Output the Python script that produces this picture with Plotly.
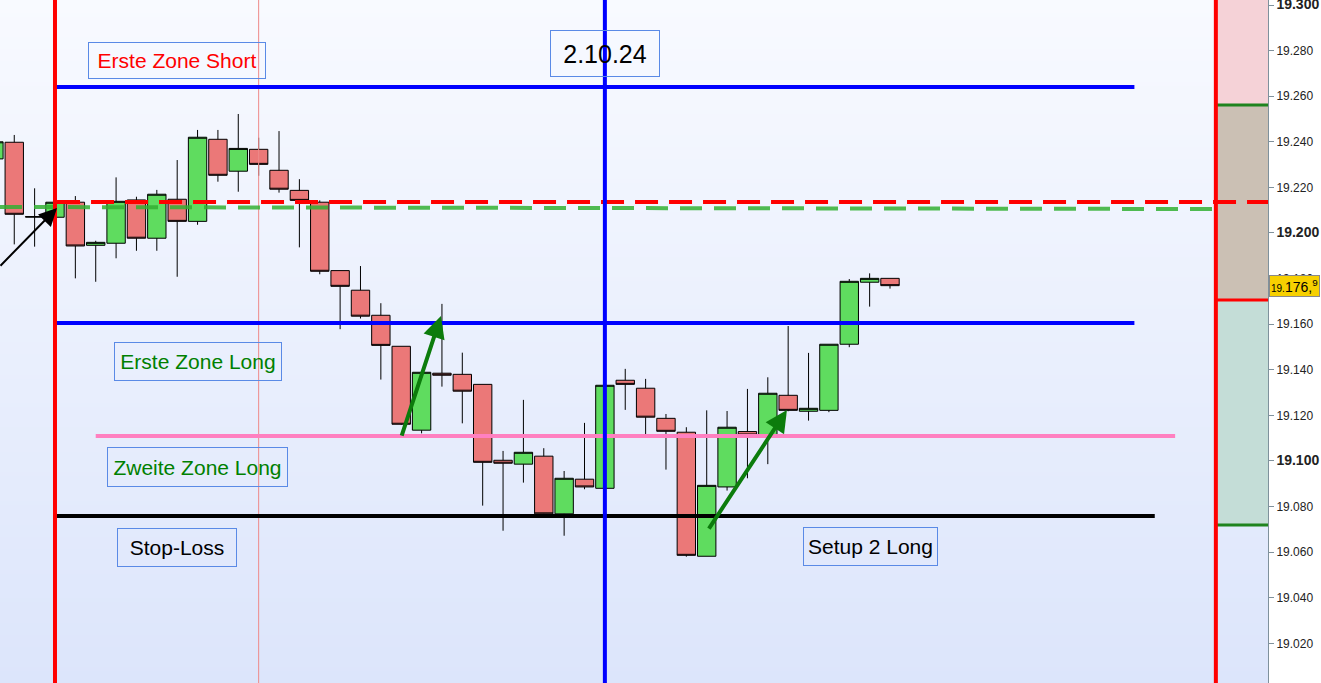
import plotly.graph_objects as go

# ---------------- data ----------------
idx = list(range(-1, 44))
opens = [19.2325, 19.2398, 19.2072, 19.2069, 19.2135, 19.1946, 19.1955, 19.2145, 19.1977, 19.2148,
         19.2051, 19.2411, 19.2271, 19.2367, 19.2275, 19.2187, 19.2135, 19.1835, 19.1749, 19.1639,
         19.1503, 19.1135, 19.1385, 19.1380, 19.1336, 19.1003, 19.0986, 19.1021, 19.0768, 19.0920,
         19.0880, 19.1354, 19.1319, 19.1187, 19.1126, 19.0582, 19.0886, 19.1129, 19.1104, 19.1288,
         19.1218, 19.1222, 19.1512, 19.1784, 19.1801]
highs = [19.2420, 19.2430, 19.2196, 19.2135, 19.2162, 19.1966, 19.2244, 19.2159, 19.2189, 19.2320,
         19.2452, 19.2452, 19.2522, 19.2418, 19.2447, 19.2236, 19.2143, 19.1835, 19.1855, 19.1692,
         19.1503, 19.1389, 19.1689, 19.1475, 19.1336, 19.1044, 19.1268, 19.1056, 19.0956, 19.1167,
         19.1332, 19.1404, 19.1360, 19.1206, 19.1148, 19.1222, 19.1219, 19.1316, 19.1367, 19.1592,
         19.1474, 19.1512, 19.1798, 19.1823, 19.1801]
lows = [19.2310, 19.1950, 19.1940, 19.2069, 19.1801, 19.1786, 19.1889, 19.1922, 19.1922, 19.1808,
        19.2036, 19.2225, 19.2181, 19.2251, 19.2177, 19.1937, 19.1819, 19.1578, 19.1625, 19.1357,
        19.1158, 19.1121, 19.1326, 19.1165, 19.0804, 19.0694, 19.0905, 19.0763, 19.0672, 19.0876,
        19.0880, 19.1224, 19.1102, 19.0962, 19.0580, 19.0582, 19.0870, 19.0924, 19.0986, 19.1218,
        19.1177, 19.1214, 19.1499, 19.1677, 19.1756]
closes = [19.2400, 19.2082, 19.2070, 19.2135, 19.1943, 19.1959, 19.2139, 19.1977, 19.2170, 19.2051,
          19.2420, 19.2253, 19.2371, 19.2301, 19.2192, 19.2143, 19.1832, 19.1766, 19.1635, 19.1507,
          19.1161, 19.1389, 19.1376, 19.1306, 19.0994, 19.0990, 19.1038, 19.0768, 19.0924, 19.0886,
          19.1332, 19.1336, 19.1192, 19.1130, 19.0586, 19.0893, 19.1148, 19.1114, 19.1297, 19.1222,
          19.1231, 19.1512, 19.1788, 19.1801, 19.1769]

x_range = [-0.70, 61.56]
y_range = [19.0026, 19.3022]

# horizontal level lines
blue_levels = [19.2640, 19.1605]
blue_span = [2.0, 55.0]
pink_level = 19.1110
pink_span = [4.0, 57.0]
stop_level = 19.0759
stop_span = [2.0, 56.0]
red_dash_level = 19.2136
red_dash_start = 2.1
green_dash_prices = [19.2114, 19.2105]
green_dash_x = [-0.70, 59.0]

# vertical lines
red_vlines = [2, 59]
blue_vline = 29
thin_vline = 12

# right-side zones
zone_edges = [19.3022, 19.2561, 19.1706, 19.0719]
zone_colors = ["#f5d2d7", "#cbc0b4", "#c4ddd7"]
zone_line_colors = ["#1e841e", "#ff0000", "#1e841e"]

# y ticks
tick_vals = [19.02, 19.04, 19.06, 19.08, 19.10, 19.12, 19.14, 19.16, 19.18, 19.20,
             19.22, 19.24, 19.26, 19.28, 19.30]
bold_ticks = [19.10, 19.20, 19.30]

# text boxes: (text, x, y, width, height, color, size)
labels = [
    ("Erste Zone Short", 7.99, 19.2757, 174, 33, "#ff0000", 21),
    ("2.10.24", 29.0, 19.2787, 106, 43, "#000000", 25),
    ("Erste Zone Long", 9.02, 19.1436, 164, 35, "#008000", 21),
    ("Zweite Zone Long", 9.0, 19.0974, 177, 36, "#008000", 21),
    ("Stop-Loss", 7.99, 19.0621, 116, 35, "#000000", 21),
    ("Setup 2 Long", 42.04, 19.0625, 131, 35, "#000000", 21),
]

# arrows: (tip_x, tip_y, tail_x, tail_y, color, width)
arrows = [
    (2.1, 19.2110, -0.75, 19.1850, "#000000", 2),
    (20.95, 19.1636, 19.0, 19.1105, "#0c7c0c", 4),
    (37.94, 19.1224, 34.06, 19.0697, "#0c7c0c", 4),
]

last_price = closes[-1]

# ---------------- figure ----------------
fig = go.Figure()

fig.add_trace(go.Heatmap(
    x=x_range, y=y_range, z=[[0, 0], [1, 1]], zsmooth="best",
    colorscale=[[0, "#dce5fb"], [1, "#f8faff"]], showscale=False,
    hoverinfo="skip"))

fig.add_trace(go.Candlestick(
    x=idx, open=opens, high=highs, low=lows, close=closes,
    increasing=dict(fillcolor="#5fdc5f", line=dict(color="#000000", width=1)),
    decreasing=dict(fillcolor="#eb7878", line=dict(color="#000000", width=1)),
    whiskerwidth=0, showlegend=False))

shapes = []
for k in range(3):
    shapes.append(dict(type="rect", xref="x", yref="y", x0=59, x1=x_range[1],
                       y0=zone_edges[k + 1], y1=zone_edges[k], fillcolor=zone_colors[k],
                       line=dict(width=0), layer="above"))
for k in range(3):
    shapes.append(dict(type="line", xref="x", yref="y", x0=59, x1=x_range[1],
                       y0=zone_edges[k + 1], y1=zone_edges[k + 1],
                       line=dict(color=zone_line_colors[k], width=3), layer="above"))

shapes.append(dict(type="line", xref="x", yref="paper", x0=thin_vline, x1=thin_vline, y0=0, y1=1,
                   line=dict(color="#ee8a8a", width=1), layer="above"))
for lv in blue_levels:
    shapes.append(dict(type="line", xref="x", yref="y", x0=blue_span[0], x1=blue_span[1], y0=lv, y1=lv,
                       line=dict(color="#0000ff", width=4), layer="above"))
shapes.append(dict(type="line", xref="x", yref="y", x0=pink_span[0], x1=pink_span[1], y0=pink_level, y1=pink_level,
                   line=dict(color="#ff80c0", width=4), layer="above"))
shapes.append(dict(type="line", xref="x", yref="y", x0=stop_span[0], x1=stop_span[1], y0=stop_level, y1=stop_level,
                   line=dict(color="#000000", width=4), layer="above"))
shapes.append(dict(type="line", xref="x", yref="y", x0=green_dash_x[0], x1=green_dash_x[1],
                   y0=green_dash_prices[0], y1=green_dash_prices[1],
                   line=dict(color="rgba(50,175,50,0.85)", width=4, dash="22px,12px"), layer="above"))
shapes.append(dict(type="line", xref="x", yref="y", x0=red_dash_start, x1=x_range[1],
                   y0=red_dash_level, y1=red_dash_level,
                   line=dict(color="#ff0000", width=4, dash="23px,11px"), layer="above"))
for vx in red_vlines:
    shapes.append(dict(type="line", xref="x", yref="paper", x0=vx, x1=vx, y0=0, y1=1,
                       line=dict(color="#ff0000", width=4), layer="above"))
shapes.append(dict(type="line", xref="x", yref="paper", x0=blue_vline, x1=blue_vline, y0=0, y1=1,
                   line=dict(color="#0000ff", width=4), layer="above"))

annotations = []
for text, lx, ly, w, h, col, sz in labels:
    annotations.append(dict(x=lx, y=ly, xref="x", yref="y", text=text, showarrow=False,
                            width=w, height=h, borderpad=1, bordercolor="#5a8ae6", borderwidth=1,
                            font=dict(color=col, size=sz, family="Liberation Sans, Arial"),
                            xanchor="center", yanchor="middle", align="center", valign="middle"))
for tx, ty, ax_, ay_, col, w in arrows:
    annotations.append(dict(x=tx, y=ty, ax=ax_, ay=ay_, xref="x", yref="y", axref="x", ayref="y",
                            text="", showarrow=True, arrowhead=2, arrowsize=1.1 if w > 2 else 1.8,
                            arrowwidth=w, arrowcolor=col))
annotations.append(dict(x=1, y=last_price, xref="paper", yref="y", xanchor="left", yanchor="middle",
                        xshift=1, showarrow=False,
                        text='<span style="font-size:10px">19.</span>176,<sup>9</sup>',
                        font=dict(size=14, color="#000000", family="Liberation Sans, Arial"),
                        bgcolor="#f7d000", bordercolor="#8a8a8a", borderwidth=1, borderpad=1))

tick_text = []
for v in tick_vals:
    s = f"{v:.3f}"
    if any(abs(v - b) < 1e-9 for b in bold_ticks):
        tick_text.append(f'<b><span style="font-size:14px">{s}</span></b>')
    else:
        tick_text.append(s)

fig.update_layout(
    width=1321, height=683,
    margin=dict(l=0, r=53, t=0, b=0, autoexpand=False),
    paper_bgcolor="#ffffff", plot_bgcolor="#eef2fd",
    boxgap=0.05, boxgroupgap=0.05,
    shapes=shapes, annotations=annotations,
    showlegend=False,
    font=dict(family="Liberation Sans, Arial", color="#222222"),
    xaxis=dict(range=x_range, showticklabels=False, showgrid=False, zeroline=False,
               rangeslider=dict(visible=False), fixedrange=True, showline=False, ticks="",
               automargin=False),
    yaxis=dict(range=y_range, side="right", tickvals=tick_vals, ticktext=tick_text,
               showgrid=False, zeroline=False, showline=True, linecolor="#7f919c", linewidth=1,
               ticks="outside", ticklen=5, tickcolor="#7f919c", ticklabeloverflow="allow",
               automargin=False,
               tickfont=dict(size=12, color="#222222", family="Liberation Sans, Arial")),
)

fig.write_html("out.html", config={"displayModeBar": False},
               post_script="document.body.style.margin='0px';")
